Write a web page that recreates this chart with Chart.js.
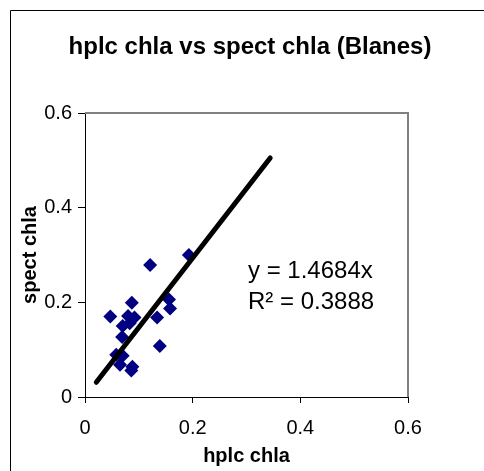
<!DOCTYPE html>
<html><head><meta charset="utf-8">
<script src="https://cdn.jsdelivr.net/npm/chart.js@4/dist/chart.umd.min.js"></script>
<style>html,body{margin:0;padding:0;background:#fff;}#wrap{width:484px;height:471px;position:relative;}</style>
</head><body><div id="wrap"><canvas id="c" width="484" height="471"></canvas></div>
<script>
const chartTitle = 'hplc chla vs spect chla (Blanes)';
const xAxisTitle = 'hplc chla';
const yAxisTitle = 'spect chla';
const hplcChla  = [0.121, 0.193, 0.087, 0.047, 0.080, 0.092, 0.083, 0.070, 0.069, 0.134, 0.156, 0.158, 0.139, 0.058, 0.070, 0.065, 0.088, 0.086];
const spectChla = [0.279, 0.300, 0.199, 0.170, 0.171, 0.168, 0.156, 0.150, 0.127, 0.168, 0.206, 0.187, 0.108, 0.089, 0.087, 0.068, 0.064, 0.056];
const trendX = [0.021, 0.344];
const trendY = [0.031, 0.505];
const tickValues = [0, 0.2, 0.4, 0.6];
const tickLabels = ['0', '0.2', '0.4', '0.6'];
const equationText = ['y = 1.4684x', 'R\u00B2 = 0.3888'];

const FONT = '"Liberation Sans", Arial, sans-serif';

const decor = {
  id: 'decor',
  beforeDraw(chart) {
    const ctx = chart.ctx;
    ctx.save();
    ctx.fillStyle = '#fff';
    ctx.fillRect(0, 0, chart.width, chart.height);
    ctx.strokeStyle = '#000';
    ctx.lineWidth = 1;
    ctx.beginPath();
    ctx.moveTo(10.5, chart.height + 5);
    ctx.lineTo(10.5, 10.5);
    ctx.lineTo(chart.width + 5, 10.5);
    ctx.stroke();
    ctx.restore();
  },
  afterDatasetsDraw(chart) {
    const ctx = chart.ctx;
    const a = chart.chartArea;
    ctx.save();
    ctx.strokeStyle = '#808080';
    ctx.lineWidth = 2;
    ctx.beginPath();
    ctx.moveTo(a.left, a.top);
    ctx.lineTo(a.right, a.top);
    ctx.lineTo(a.right, a.bottom);
    ctx.stroke();
    ctx.restore();
  },
  afterDraw(chart) {
    const ctx = chart.ctx;
    ctx.save();
    ctx.fillStyle = '#000';
    ctx.textBaseline = 'middle';
    ctx.textAlign = 'center';
    ctx.font = 'bold 24px ' + FONT;
    ctx.fillText(chartTitle, 250, 47);
    ctx.textAlign = 'left';
    ctx.textBaseline = 'alphabetic';
    ctx.font = '24px ' + FONT;
    ctx.fillText(equationText[0], 248, 278);
    ctx.fillText(equationText[1], 248, 309);
    ctx.restore();
  }
};

new Chart(document.getElementById('c'), {
  data: {
    datasets: [
      {
        type: 'line',
        data: trendX.map((x, i) => ({x: x, y: trendY[i]})),
        borderColor: '#000',
        borderWidth: 5,
        borderCapStyle: 'round',
        pointRadius: 0,
        fill: false,
        order: 0
      },
      {
        type: 'scatter',
        data: hplcChla.map((x, i) => ({x: x, y: spectChla[i]})),
        pointStyle: 'rectRot',
        pointRadius: 7,
        backgroundColor: '#000080',
        borderColor: '#000080',
        borderWidth: 0,
        order: 1
      }
    ]
  },
  options: {
    responsive: false,
    animation: false,
    devicePixelRatio: 1,
    layout: { padding: { left: 0, top: 113, right: 76, bottom: 0 } },
    plugins: { legend: { display: false }, tooltip: { enabled: false }, title: { display: false } },
    scales: {
      x: {
        type: 'linear', min: 0, max: 0.6,
        afterBuildTicks: s => { s.ticks = tickValues.map(v => ({value: v})); },
        afterFit: s => { s.height = 74; },
        ticks: { callback: (v, i) => tickLabels[i], color: '#000', font: { family: FONT, size: 20 }, padding: 13, maxRotation: 0, autoSkip: false },
        grid: { drawOnChartArea: false, drawTicks: true, tickLength: 6, color: '#000', tickColor: '#000' },
        border: { display: true, color: '#000', width: 1 },
        title: { display: true, text: xAxisTitle, color: '#000', font: { family: FONT, size: 20, weight: 'bold' }, padding: { top: 0, bottom: 3 } }
      },
      y: {
        type: 'linear', min: 0, max: 0.6,
        afterBuildTicks: s => { s.ticks = tickValues.map(v => ({value: v})); },
        afterFit: s => { s.width = 85; },
        ticks: { callback: (v, i) => tickLabels[i], color: '#000', font: { family: FONT, size: 20 }, padding: 6, autoSkip: false },
        grid: { drawOnChartArea: false, drawTicks: true, tickLength: 7, color: '#000', tickColor: '#000' },
        border: { display: true, color: '#000', width: 1 },
        title: { display: true, text: yAxisTitle, color: '#000', font: { family: FONT, size: 20, weight: 'bold' }, padding: { top: 18, bottom: 0 } }
      }
    }
  },
  plugins: [decor]
});
</script>
</body></html>
